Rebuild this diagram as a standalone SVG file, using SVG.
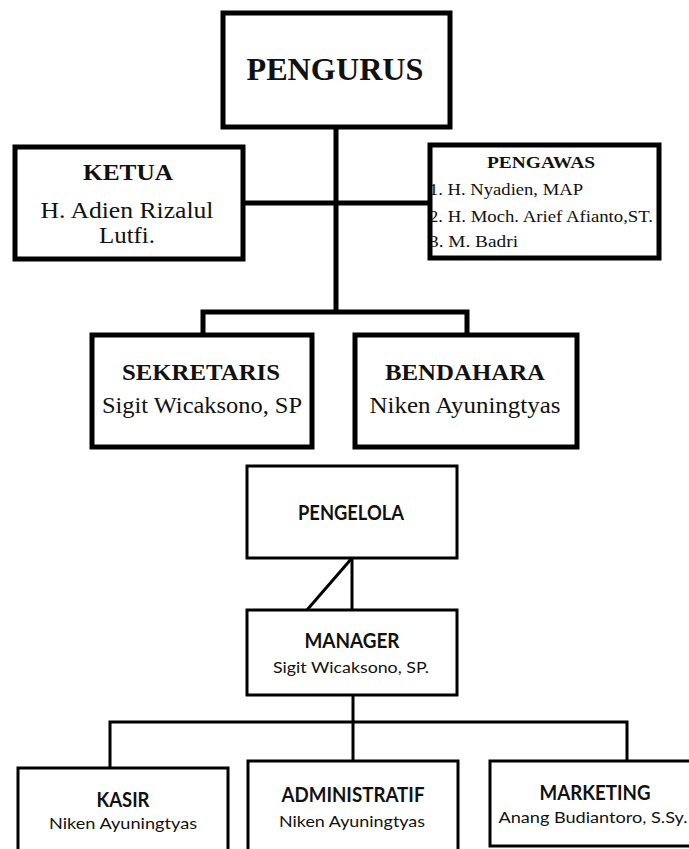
<svg xmlns="http://www.w3.org/2000/svg" width="689" height="849" viewBox="0 0 689 849">
<style>
.bx{fill:#fff;stroke:#000;stroke-width:5;stroke-linejoin:miter}
.bx2{fill:#fff;stroke:#000;stroke-width:3}
.ln{stroke:#000;stroke-width:5;fill:none}
.ln2{stroke:#000;stroke-width:3;fill:none}
.s{font-family:"Liberation Serif","Times New Roman",serif;fill:#111;text-anchor:middle}
.sl{font-family:"Liberation Serif","Times New Roman",serif;fill:#111;text-anchor:start;font-size:17px}
.sb{font-weight:bold}
.c{font-family:Lato,"Open Sans",sans-serif;fill:#111;text-anchor:middle}
.cb{font-weight:bold}
</style>
<rect width="689" height="849" fill="#fff"/>
<g id="connectors">
<line class="ln" x1="336" y1="127" x2="336" y2="312"/>
<line class="ln" x1="243" y1="203" x2="430" y2="203"/>
<polyline class="ln" points="203,336 203,312 467,312 467,336"/>
<line class="ln2" x1="352" y1="558" x2="352" y2="610"/>
<line class="ln2" x1="352" y1="558" x2="307" y2="610"/>
<line class="ln2" x1="353" y1="695" x2="353" y2="761"/>
<polyline class="ln2" points="110,768 110,722 627,722 627,761"/>
</g>
<g id="pengurus">
<rect class="bx" x="223" y="13" width="227" height="114"/>
<text class="s sb" x="335" y="80" font-size="32" textLength="177" lengthAdjust="spacingAndGlyphs">PENGURUS</text>
</g>
<g id="ketua">
<rect class="bx" x="15" y="147" width="228" height="112"/>
<text class="s sb" x="128" y="180" font-size="24" textLength="90" lengthAdjust="spacingAndGlyphs">KETUA</text>
<text class="s" x="127" y="218" font-size="23" textLength="173" lengthAdjust="spacingAndGlyphs">H. Adien Rizalul</text>
<text class="s" x="127" y="243" font-size="23" textLength="56" lengthAdjust="spacingAndGlyphs">Lutfi.</text>
</g>
<g id="pengawas">
<rect class="bx" x="430" y="145" width="229" height="113"/>
<text class="s sb" x="541" y="168" font-size="17" textLength="108" lengthAdjust="spacingAndGlyphs">PENGAWAS</text>
<text class="sl" x="429" y="195" textLength="154" lengthAdjust="spacingAndGlyphs">1. H. Nyadien, MAP</text>
<text class="sl" x="429" y="222" textLength="224" lengthAdjust="spacingAndGlyphs">2. H. Moch. Arief Afianto,ST.</text>
<text class="sl" x="429" y="247" textLength="89" lengthAdjust="spacingAndGlyphs">3. M. Badri</text>
</g>
<g id="sekretaris">
<rect class="bx" x="92" y="335" width="220" height="112"/>
<text class="s sb" x="201" y="380" font-size="24" textLength="158" lengthAdjust="spacingAndGlyphs">SEKRETARIS</text>
<text class="s" x="202" y="413" font-size="24" textLength="200" lengthAdjust="spacingAndGlyphs">Sigit Wicaksono, SP</text>
</g>
<g id="bendahara">
<rect class="bx" x="355" y="335" width="222" height="112"/>
<text class="s sb" x="465" y="380" font-size="24" textLength="160" lengthAdjust="spacingAndGlyphs">BENDAHARA</text>
<text class="s" x="465" y="413" font-size="24" textLength="191" lengthAdjust="spacingAndGlyphs">Niken Ayuningtyas</text>
</g>
<g id="pengelola">
<rect class="bx2" x="247" y="466" width="210" height="92"/>
<text class="c cb" x="351" y="520" font-size="20" textLength="106" lengthAdjust="spacingAndGlyphs">PENGELOLA</text>
</g>
<g id="manager">
<rect class="bx2" x="247" y="610" width="210" height="85"/>
<text class="c cb" x="352" y="648" font-size="20" textLength="95" lengthAdjust="spacingAndGlyphs">MANAGER</text>
<text class="c" x="351" y="673" font-size="15" textLength="156" lengthAdjust="spacingAndGlyphs">Sigit Wicaksono, SP.</text>
</g>
<g id="kasir">
<rect class="bx2" x="18" y="768" width="210" height="100"/>
<text class="c cb" x="123" y="807" font-size="21" textLength="53" lengthAdjust="spacingAndGlyphs">KASIR</text>
<text class="c" x="123" y="829" font-size="15" textLength="148" lengthAdjust="spacingAndGlyphs">Niken Ayuningtyas</text>
</g>
<g id="administratif">
<rect class="bx2" x="248" y="761" width="210" height="110"/>
<text class="c cb" x="353" y="802" font-size="21" textLength="143" lengthAdjust="spacingAndGlyphs">ADMINISTRATIF</text>
<text class="c" x="352" y="827" font-size="15" textLength="146" lengthAdjust="spacingAndGlyphs">Niken Ayuningtyas</text>
</g>
<g id="marketing">
<rect class="bx2" x="490" y="761" width="210" height="85"/>
<text class="c cb" x="595" y="800" font-size="21" textLength="111" lengthAdjust="spacingAndGlyphs">MARKETING</text>
<text class="c" x="593" y="823" font-size="15" textLength="189" lengthAdjust="spacingAndGlyphs">Anang Budiantoro, S.Sy.</text>
</g>
</svg>
